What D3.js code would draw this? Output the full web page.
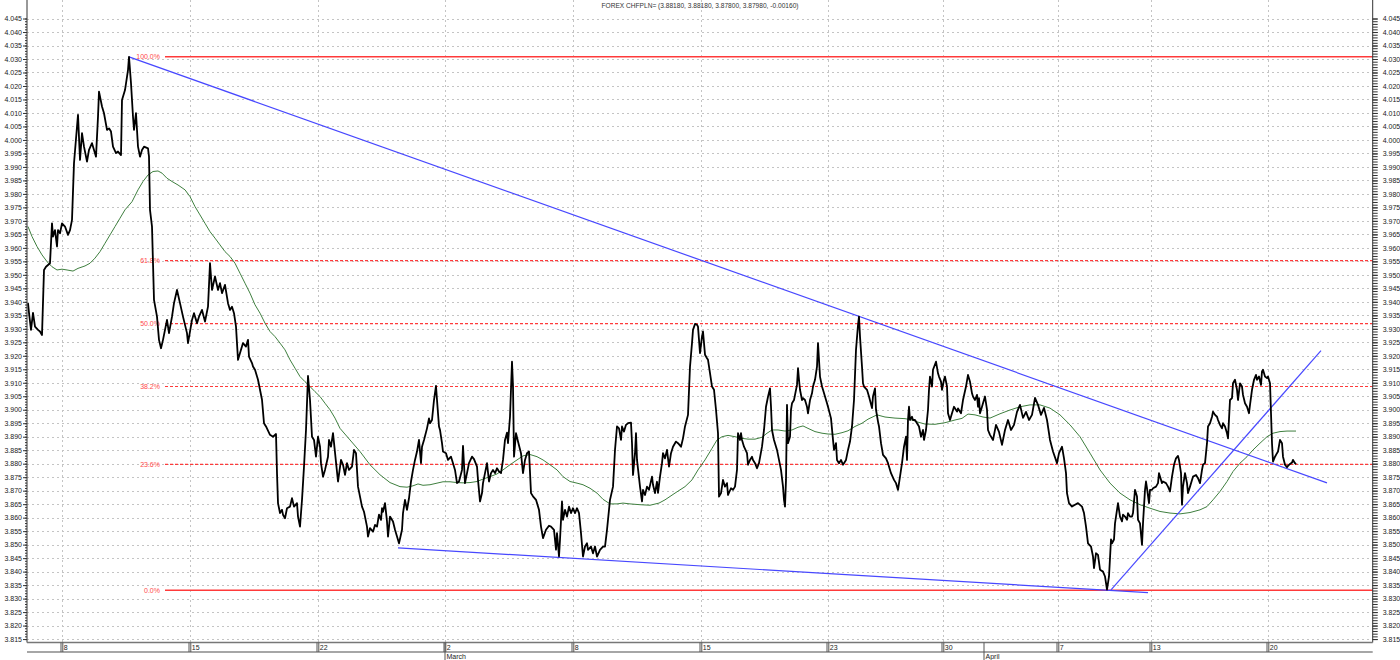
<!DOCTYPE html>
<html><head><meta charset="utf-8">
<script src="https://cdn.jsdelivr.net/npm/d3@7"></script>
<style>
html,body{margin:0;padding:0;background:#fff;}
svg{display:block;font-family:"Liberation Sans",Arial,sans-serif;}
</style></head><body>
<svg id="c" width="1400" height="660"></svg>
<script>
const titleText = "FOREX CHFPLN= (3.88180, 3.88180, 3.87800, 3.87980, -0.00160)";

// bar index (hourly bars) and close price
const price = [
[0,3.9395],[1,3.9359],[3,3.9296],[5,3.9359],[7,3.9308],[10,3.9296],[12,3.9290],[14,3.9277],[16,3.9518],[18,3.9530],[22,3.9543],[24,3.9691],[25,3.9642],[27,3.9666],[29,3.9605],[30,3.9666],[32,3.9654],[34,3.9691],[37,3.9679],[40,3.9648],[42,3.9666],[44,3.9704],[46,3.9914],[49,4.0049],[50,4.0093],[52,3.9926],[54,4.0025],[56,3.9975],[59,3.9920],[61,3.9963],[64,3.9988],[66,3.9963],[68,3.9938],[70,4.0086],[71,4.0179],[74,4.0124],[76,4.0099],[79,4.0037],[81,4.0043],[83,4.0031],[85,3.9975],[88,3.9951],[90,3.9957],[93,3.9944],[94,4.0148],[97,4.0185],[100,4.0259],[101,4.0308],[103,4.0210],[105,4.0086],[106,4.0037],[108,4.0099],[110,3.9975],[112,3.9938],[114,3.9963],[116,3.9975],[120,3.9969],[121,3.9938],[122,3.9741],[124,3.9679],[126,3.9407],[129,3.9345],[131,3.9259],[133,3.9228],[135,3.9259],[139,3.9333],[141,3.9284],[144,3.9345],[146,3.9395],[149,3.9444],[152,3.9395],[155,3.9345],[159,3.9284],[160,3.9247],[164,3.9333],[166,3.9358],[169,3.9321],[171,3.9345],[174,3.9370],[177,3.9327],[180,3.9382],[182,3.9543],[184,3.9444],[187,3.9494],[190,3.9444],[192,3.9469],[194,3.9432],[197,3.9463],[200,3.9395],[202,3.9370],[204,3.9382],[206,3.9358],[208,3.9308],[210,3.9185],[213,3.9222],[215,3.9247],[218,3.9234],[220,3.9259],[221,3.9197],[224,3.9173],[225,3.9160],[227,3.9148],[230,3.9111],[232,3.9074],[234,3.9037],[236,3.8950],[238,3.8938],[242,3.8907],[245,3.8900],[248,3.8910],[249,3.8765],[250,3.8654],[252,3.8617],[254,3.8629],[255,3.8611],[257,3.8598],[259,3.8635],[262,3.8641],[264,3.8672],[266,3.8641],[269,3.8654],[270,3.8604],[272,3.8567],[274,3.8666],[276,3.8789],[278,3.8925],[280,3.9125],[282,3.9036],[284,3.8900],[286,3.8888],[288,3.8826],[290,3.8900],[292,3.8863],[293,3.8802],[295,3.8752],[297,3.8777],[300,3.8826],[301,3.8888],[303,3.8863],[305,3.8913],
[310,3.8734],[313,3.8814],[315,3.8796],[317,3.8759],[319,3.8802],[321,3.8777],[324,3.8789],[326,3.8851],[328,3.8839],[330,3.8715],[334,3.8641],[336,3.8622],[339,3.8567],[340,3.8530],[342,3.8561],[345,3.8548],[347,3.8573],[349,3.8567],[351,3.8611],[353,3.8592],[354,3.8635],[355,3.8622],[357,3.8654],[359,3.8586],[360,3.8530],[362,3.8604],[365,3.8586],[367,3.8555],[369,3.8530],[371,3.8505],[374,3.8555],[375,3.8617],[377,3.8666],[379,3.8629],[381,3.8672],[383,3.8734],[385,3.8777],[387,3.8814],[389,3.8845],[391,3.8888],[393,3.8802],[394,3.8863],[396,3.8888],[399,3.8931],[401,3.8968],[402,3.8950],[404,3.8962],[406,3.9036],[408,3.9088],[409,3.9036],[411,3.8938],[412,3.8925],[414,3.8876],[415,3.8845],[418,3.8839],[420,3.8814],[423,3.8826],[425,3.8802],[427,3.8777],[429,3.8728],[431,3.8734],[434,3.8777],[435,3.8866],[437,3.8728],[439,3.8765],[441,3.8802],[444,3.8826],[446,3.8817],[449,3.8789],[450,3.8740],[452,3.8660],[454,3.8691],[455,3.8728],[457,3.8765],[459,3.8802],[461,3.8734],[463,3.8765],[465,3.8777],[467,3.8765],[469,3.8783],[471,3.8771],[473,3.8765],[475,3.8814],[477,3.8888],[479,3.8915],[480,3.8876],[482,3.8974],[484,3.9178],[485,3.9086],[486,3.8826],[488,3.8913],[490,3.8882],[493,3.8839],[495,3.8765],[497,3.8814],[499,3.8839],[501,3.8845],[503,3.8691],[505,3.8679],[508,3.8666],[511,3.8629],[513,3.8567],[515,3.8524],[518,3.8555],[521,3.8570],[523,3.8567],[526,3.8555],[528,3.8481],[529,3.8543],[531,3.8456],[532,3.8518],[534,3.8660],[535,3.8592],[537,3.8629],[539,3.8604],[541,3.8641],[543,3.8617],[545,3.8635],[547,3.8617],[549,3.8635],[551,3.8617],[553,3.8543],[555,3.8456],[557,3.8493],[559,3.8505],[560,3.8481],[563,3.8493],[565,3.8468],[567,3.8493],[569,3.8456],[572,3.8481],[575,3.8493],[577,3.8493],[579,3.8555],[582,3.8666],[585,3.8715],[587,3.8851],[589,3.8938],[591,3.8931],[593,3.8888],[594,3.8938],[596,3.8919],[598,3.8944],[600,3.8950],[603,3.8952],[604,3.8876],[605,3.8758],[607,3.8839],[608,3.8913],[609,3.8814],[612,3.8715],[614,3.8660],[615,3.8703],[617,3.8684],[619,3.8715],[621,3.8703],[624,3.8752],[625,3.8722],[627,3.8691],[629,3.8733],[630,3.8692],[632,3.8752],[634,3.8802],[635,3.8839],[637,3.8820],[639,3.8851],[641,3.8789],[643,3.8839],[645,3.8863],[648,3.8882],[650,3.8876],[653,3.8863],[655,3.8894],[657,3.8938],[660,3.8981],[662,3.9160],[664,3.9247],[665,3.9296],[667,3.9318],[669,3.9315],[670,3.9308],[672,3.9210],[674,3.9271],[675,3.9290],[677,3.9204],[679,3.9191],[680,3.9185],[682,3.9136],[684,3.9086],[686,3.9074],[688,3.9000],[690,3.8913],[691,3.8678],[693,3.8691],[695,3.8740],[697,3.8715],[699,3.8728],[700,3.8684],[703,3.8709],[705,3.8703],[707,3.8715],[709,3.8777],[710,3.8913],[712,3.8888],[713,3.8913],[714,3.8888],[716,3.8863],[719,3.8839],[720,3.8796],[722,3.8814],[724,3.8826],[725,3.8814],[727,3.8802],[729,3.8783],[731,3.8802],[734,3.8863],[736,3.8925],[738,3.9011],[740,3.9048],[742,3.9079],[743,3.9011],[744,3.8925],[746,3.8888],[749,3.8851],[751,3.8814],[753,3.8777],[755,3.8715],[756,3.8666],[757,3.8641],[758,3.8740],[759,3.9018],[760,3.8876],[762,3.8900],[763,3.9000],[764,3.9024],[766,3.9036],[769,3.9092],[770,3.9154],[771,3.9111],[772,3.9074],[774,3.9036],[775,3.9043],[777,3.9036],[779,3.9011],[780,3.8987],[782,3.9036],[784,3.9061],[785,3.9086],[787,3.9111],[789,3.9160],[790,3.9247],[792,3.9123],[794,3.9086],[795,3.9074],[797,3.9049],[799,3.9024],[800,3.9011],[803,3.8968],[805,3.8888],[806,3.8851],[808,3.8876],[809,3.8814],[811,3.8802],[813,3.8814],[815,3.8796],[818,3.8814],[820,3.8851],[822,3.8882],[824,3.8938],[826,3.9036],[828,3.9222],[830,3.9314],[831,3.9345],[832,3.9271],[834,3.9160],[835,3.9098],[836,3.9086],[839,3.9074],[841,3.9049],[844,3.9006],[845,3.9049],[847,3.9079],[848,3.9000],[850,3.8956],[851,3.8938],[853,3.8876],[855,3.8833],[858,3.8820],[860,3.8802],[863,3.8765],[866,3.8740],[868,3.8728],[870,3.8703],[872,3.8752],[874,3.8802],[876,3.8863],[878,3.8900],[879,3.8814],[880,3.8962],[881,3.9011],[882,3.8962],[884,3.8974],[885,3.8962],[887,3.8962],[889,3.8950],[891,3.8938],[893,3.8900],[895,3.8925],[896,3.8888],[898,3.8925],[900,3.9000],[901,3.9074],[902,3.9123],[904,3.9086],[905,3.9148],[908,3.9178],[910,3.9135],[911,3.9123],[913,3.9104],[914,3.9074],[916,3.9111],[917,3.9123],[919,3.9086],[920,3.8987],[922,3.8962],[924,3.8987],[926,3.9011],[929,3.8993],[930,3.9005],[933,3.8987],[935,3.9036],[938,3.9086],[940,3.9129],[942,3.9104],[944,3.9061],[945,3.9049],[947,3.9036],[949,3.9055],[950,3.9011],[951,3.9043],[952,3.8987],[954,3.9011],[955,3.9024],[957,3.9049],[959,3.9000],[960,3.8925],[962,3.8907],
[965,3.8888],[968,3.8944],[971,3.8918],[974,3.8870],[977,3.8925],[980,3.8962],[983,3.8925],[986,3.8944],[989,3.8992],[992,3.9018],[995,3.8970],[998,3.8992],[1001,3.8962],[1004,3.8981],[1007,3.9044],[1010,3.9018],[1013,3.8981],[1016,3.9007],[1019,3.8962],[1022,3.8888],
[1025,3.8845],[1029,3.8802],[1031,3.8839],[1034,3.8863],[1036,3.8820],[1038,3.8765],[1039,3.8691],[1041,3.8654],[1044,3.8641],[1047,3.8648],[1050,3.8654],[1054,3.8641],[1056,3.8617],[1058,3.8567],[1060,3.8505],[1063,3.8493],[1065,3.8456],[1066,3.8413],[1068,3.8468],[1070,3.8462],[1072,3.8407],[1075,3.8400],[1077,3.8382],[1079,3.8333],[1081,3.8382],[1083,3.8519],[1084,3.8505],[1086,3.8519],[1087,3.8579],[1089,3.8629],[1090,3.8654],[1092,3.8604],[1094,3.8586],[1095,3.8611],[1097,3.8604],[1099,3.8592],[1100,3.8617],[1102,3.8604],[1104,3.8604],[1105,3.8617],[1107,3.8703],[1109,3.8678],[1110,3.8592],[1112,3.8579],[1114,3.8499],[1115,3.8579],[1117,3.8703],[1118,3.8734],[1119,3.8709],[1121,3.8654],[1122,3.8703],[1124,3.8703],[1125,3.8709],[1128,3.8715],[1130,3.8728],[1131,3.8765],[1134,3.8728],[1135,3.8734],[1138,3.8728],[1140,3.8715],[1142,3.8697],[1144,3.8752],[1146,3.8796],[1148,3.8820],[1150,3.8829],[1151,3.8814],[1153,3.8765],[1154,3.8648],[1155,3.8715],[1157,3.8765],[1159,3.8728],[1160,3.8691],[1162,3.8715],[1164,3.8740],[1165,3.8752],[1168,3.8758],[1170,3.8746],[1172,3.8728],[1174,3.8777],[1175,3.8796],[1177,3.8802],[1179,3.8876],[1180,3.8938],[1182,3.8950],[1184,3.8974],[1185,3.8993],[1187,3.8981],[1189,3.8974],[1190,3.8962],[1192,3.8944],[1194,3.8931],[1195,3.8950],[1197,3.8938],[1199,3.8913],[1200,3.8894],[1202,3.9036],[1204,3.9043],[1205,3.9098],[1207,3.9111],[1209,3.9074],[1210,3.9036],[1212,3.9098],[1214,3.9086],[1215,3.9055],[1217,3.9024],[1219,3.9011],[1221,3.8987],[1222,3.9018],[1224,3.9074],[1226,3.9111],[1228,3.9129],[1229,3.9111],[1231,3.9123],[1233,3.9092],[1234,3.9142],[1235,3.9148],[1237,3.9123],[1239,3.9117],[1240,3.9123],[1242,3.9098],[1243,3.8987],[1244,3.8876],[1245,3.8808],[1247,3.8826],[1249,3.8839],[1250,3.8845],[1252,3.8888],[1254,3.8876],[1255,3.8826],[1257,3.8796],[1259,3.8787],[1260,3.8792],[1262,3.8799],[1264,3.8804],[1265,3.8814],[1267,3.8802],[1268,3.8798]
];

// moving average
const movingAvg = [
[0,3.9679],[4,3.9642],[9,3.9605],[14,3.9574],[19,3.9549],[24,3.9530],[29,3.9518],[34,3.9521],[39,3.9518],[45,3.9514],[50,3.9524],[57,3.9533],[62,3.9543],[67,3.9562],[72,3.9586],[77,3.9617],[82,3.9648],[87,3.9679],[92,3.9710],[97,3.9741],[104,3.9771],[110,3.9815],[115,3.9846],[120,3.9870],[125,3.9883],[130,3.9885],[134,3.9877],[139,3.9858],[144,3.9846],[150,3.9833],[157,3.9815],[162,3.9790],[167,3.9753],[172,3.9722],[177,3.9691],[182,3.9660],[187,3.9636],[192,3.9611],[197,3.9586],[202,3.9568],[207,3.9543],[212,3.9506],[217,3.9469],[222,3.9432],[227,3.9389],[232,3.9358],[237,3.9321],[242,3.9290],[247,3.9271],[252,3.9247],[257,3.9222],[262,3.9185],[267,3.9154],[272,3.9123],[277,3.9104],[282,3.9086],[287,3.9067],[292,3.9049],[297,3.9024],[302,3.9000],[307,3.8969],
[312,3.8931],[322,3.8888],[332,3.8845],[342,3.8796],[352,3.8759],[362,3.8730],[372,3.8715],[379,3.8713],[385,3.8718],[390,3.8725],[395,3.8720],[402,3.8722],[409,3.8728],[415,3.8733],[422,3.8733],[429,3.8730],[435,3.8729],[442,3.8730],[449,3.8734],[455,3.8743],[462,3.8752],[469,3.8762],[475,3.8777],[482,3.8796],[489,3.8814],[495,3.8829],[502,3.8834],[509,3.8826],[515,3.8814],[522,3.8796],[529,3.8777],[535,3.8752],[542,3.8734],[549,3.8728],[555,3.8722],[562,3.8709],[569,3.8691],[575,3.8668],[582,3.8651],[589,3.8651],[595,3.8654],[602,3.8651],[612,3.8648],[622,3.8646],[631,3.8654],
[637,3.8666],[647,3.8691],[657,3.8715],[664,3.8740],[670,3.8777],[677,3.8814],[684,3.8857],[689,3.8888],[694,3.8900],[700,3.8905],[707,3.8900],[714,3.8894],[720,3.8891],[727,3.8891],[734,3.8898],[739,3.8913],[744,3.8925],[750,3.8925],[757,3.8921],[764,3.8925],[770,3.8935],[775,3.8940],[780,3.8931],[787,3.8919],[794,3.8913],[800,3.8910],[807,3.8909],[814,3.8915],[820,3.8922],[827,3.8938],[834,3.8950],[840,3.8965],[849,3.8981],[857,3.8973],[867,3.8969],[877,3.8967],[884,3.8962],[890,3.8954],[897,3.8947],[907,3.8946],[917,3.8952],[927,3.8962],[934,3.8968],[940,3.8984],[947,3.8981],[955,3.8973],[962,3.8969],
[972,3.8985],[982,3.8999],[992,3.9011],[1002,3.9018],[1012,3.9018],[1022,3.9006],[1032,3.8981],[1042,3.8944],[1052,3.8900],[1062,3.8839],[1072,3.8777],[1082,3.8728],[1092,3.8691],[1102,3.8666],[1112,3.8648],[1122,3.8635],[1132,3.8623],[1142,3.8617],[1152,3.8614],[1162,3.8619],[1172,3.8629],[1179,3.8641],[1185,3.8666],[1192,3.8697],[1199,3.8734],[1205,3.8771],[1212,3.8802],[1219,3.8826],[1225,3.8851],[1232,3.8876],[1239,3.8900],[1245,3.8913],[1252,3.8919],[1259,3.8921],[1268,3.8921]
];

// trend lines (bar index, price)
const trendLines = [
  [[101,4.0308],[1299,3.8729]],
  [[370,3.8488],[1120,3.8322]],
  [[1083,3.8332],[1293,3.9219]]
];

// Fibonacci retracement
const fibHigh = 4.0308, fibLow = 3.8331, fibStartT = 137;
const fibRatios = [1, 0.618, 0.5, 0.382, 0.236, 0];
const fibLabels = ["100.0%","61.8%","50.0%","38.2%","23.6%","0.0%"];

// x axis
const dayTickT = [34,162,290,417,545,673,800,915,1030,1123,1240];
const dayTickLabels = ["8","15","22","2","8","15","23","30","7","13","20"];
const monthTickT = [417,956];
const monthTickLabels = ["March","April"];

const yMin = 3.815, yMax = 4.045, yStep = 0.005;

const svg = d3.select("#c");
const x = d3.scaleLinear().domain([0,1345]).range([28,1373]);
const y = d3.scaleLinear().domain([yMin,yMax]).range([639.07,18.53]);
const axL = 27, axR = 1372.7, plotBottom = 642.5;

const majorTicks = d3.range(0, Math.round((yMax-yMin)/yStep)+1).map(i => +(yMin + i*yStep).toFixed(3));
const minorTicks = d3.range(0, Math.round((yMax-yMin)/0.001)+1).map(i => +(yMin + i*0.001).toFixed(3));

// grid
const grid = svg.append("g");
grid.selectAll("line.h").data(majorTicks).join("line")
  .attr("x1", axL).attr("x2", axR)
  .attr("y1", d => Math.round(y(d))+0.5).attr("y2", d => Math.round(y(d))+0.5)
  .attr("stroke","#c4c4c4").attr("stroke-dasharray","2,3");
grid.selectAll("line.v").data(dayTickT).join("line")
  .attr("x1", d => Math.round(x(d))+0.5).attr("x2", d => Math.round(x(d))+0.5)
  .attr("y1", 0).attr("y2", plotBottom)
  .attr("stroke","#c4c4c4").attr("stroke-dasharray","2,3");

// title
svg.append("text").attr("x",700).attr("y",7.5).attr("text-anchor","middle")
  .attr("font-size","6.6px").attr("fill","#333").text(titleText);

// fib
const fib = svg.append("g");
fibRatios.forEach((r,i) => {
  const v = fibLow + r*(fibHigh-fibLow);
  const yy = y(v);
  const solid = (r===0 || r===1);
  fib.append("line").attr("x1", x(fibStartT)).attr("x2", axR)
    .attr("y1", yy).attr("y2", yy)
    .attr("stroke", "#ff3a3a").attr("stroke-width", solid ? 1.5 : 1.2)
    .attr("stroke-dasharray", solid ? null : "3,2");
  fib.append("text").attr("x", x(fibStartT)-5).attr("y", yy).attr("dy","0.35em")
    .attr("text-anchor","end").attr("font-size","7px").attr("fill","#ff4a4a").text(fibLabels[i]);
});

const line = d3.line().x(d => x(d[0])).y(d => y(d[1]));

// moving average
svg.append("path").attr("d", line(movingAvg)).attr("fill","none")
  .attr("stroke","#3f7f3f").attr("stroke-width",1);

// trend lines
svg.selectAll("path.tl").data(trendLines).join("path").attr("class","tl")
  .attr("d", d => line(d)).attr("fill","none").attr("stroke","#4848ff").attr("stroke-width",1.2);

// price
svg.append("path").attr("d", line(price)).attr("fill","none")
  .attr("stroke","#000").attr("stroke-width",1.8).attr("stroke-linejoin","round");

// y axes
function yAxis(gen, xpos, major, minor, pad) {
  const g = svg.append("g").attr("transform",`translate(${xpos},0)`);
  g.call(gen(y).tickValues(minorTicks).tickSize(minor).tickFormat(""));
  g.select(".domain").remove();
  const g2 = svg.append("g").attr("transform",`translate(${xpos},0)`);
  g2.call(gen(y).tickValues(majorTicks).tickSize(major).tickPadding(pad).tickFormat(d3.format(".3f")));
  g2.select(".domain").remove();
  [g,g2].forEach(gg => gg.selectAll("line").attr("stroke","#333"));
  g2.selectAll("text").attr("font-size","7px").attr("fill","#222").attr("font-family",'"Liberation Sans",Arial,sans-serif');
  svg.append("line").attr("x1",xpos).attr("x2",xpos).attr("y1",0).attr("y2",plotBottom)
    .attr("stroke","#333").attr("stroke-width",1);
}
yAxis(d3.axisLeft, axL, 4, 2, 1);
yAxis(d3.axisRight, axR, 5, 5, 5);

// x axis
const xa = svg.append("g");
xa.append("line").attr("x1",axL).attr("x2",axR).attr("y1",plotBottom).attr("y2",plotBottom)
  .attr("stroke","#777").attr("stroke-width",1.5);
xa.append("line").attr("x1",axL).attr("x2",axR).attr("y1",652).attr("y2",652)
  .attr("stroke","#888").attr("stroke-width",1.3);
dayTickT.forEach((t,i) => {
  const xx = Math.round(x(t));
  [-1,0.8].forEach(o => xa.append("line").attr("x1",xx+o).attr("x2",xx+o)
    .attr("y1",plotBottom).attr("y2",652).attr("stroke","#555").attr("stroke-width",1));
  xa.append("text").attr("x",xx+1.8).attr("y",650.3).attr("font-size","7px").attr("fill","#222")
    .text(dayTickLabels[i]);
});
monthTickT.forEach((t,i) => {
  const xx = Math.round(x(t));
  xa.append("line").attr("x1",xx).attr("x2",xx).attr("y1",plotBottom).attr("y2",660)
    .attr("stroke","#555").attr("stroke-width",1);
  xa.append("text").attr("x",xx+1.5).attr("y",659).attr("font-size","7px").attr("fill","#222")
    .text(monthTickLabels[i]);
});
</script>
</body></html>
